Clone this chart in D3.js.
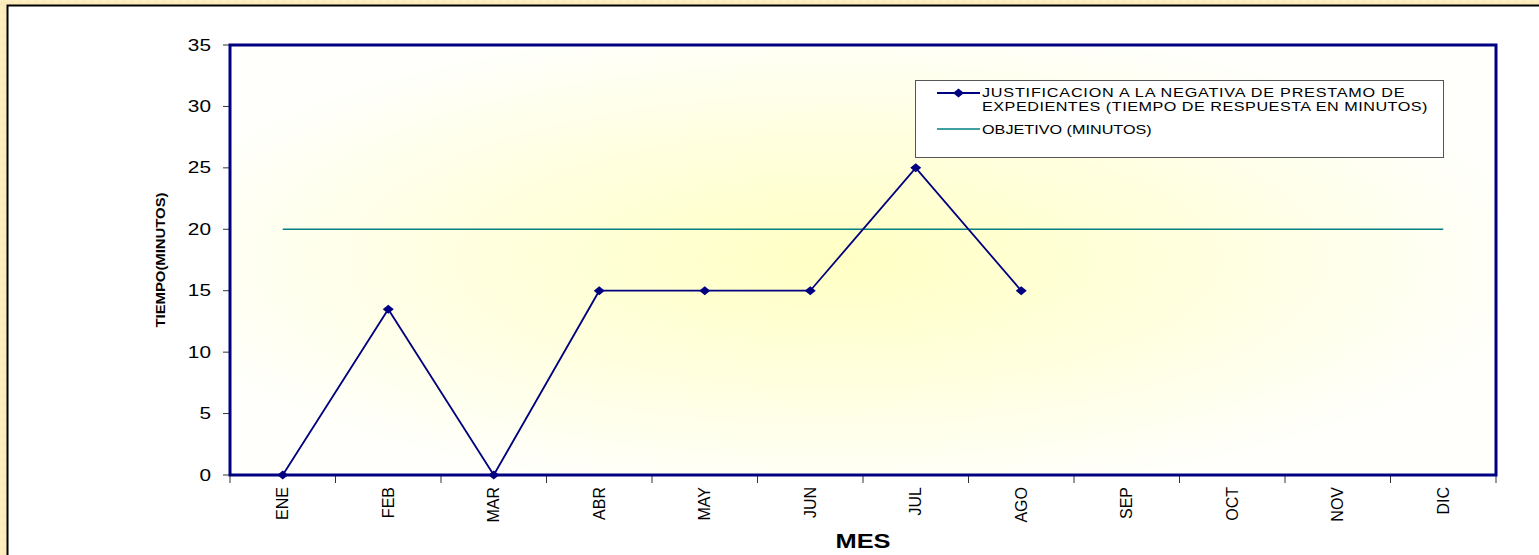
<!DOCTYPE html>
<html>
<head>
<meta charset="utf-8">
<script src="https://cdn.jsdelivr.net/npm/d3@7"></script>
<style>
  html, body { margin: 0; padding: 0; background: #fdf0c4; }
  svg { display: block; }
  text { font-family: "Liberation Sans", Arial, sans-serif; }
</style>
</head>
<body>
<svg id="chart" width="1539" height="555"></svg>
<script>
// Months of the year (x categories)
const months = ["ENE", "FEB", "MAR", "ABR", "MAY", "JUN", "JUL", "AGO", "SEP", "OCT", "NOV", "DIC"];
// Response time in minutes (reported months only)
const responseTimes = [0, 13.5, 0, 15, 15, 15, 25, 15];
// Target in minutes for every month
const objective = [20, 20, 20, 20, 20, 20, 20, 20, 20, 20, 20, 20];
// Y axis ticks
const yTicks = [0, 5, 10, 15, 20, 25, 30, 35];

const seriesName1 = ["JUSTIFICACION A LA NEGATIVA DE PRESTAMO DE", "EXPEDIENTES (TIEMPO DE RESPUESTA EN MINUTOS)"];
const seriesName2 = "OBJETIVO (MINUTOS)";

const svg = d3.select("#chart");
const W = 1539, H = 555;
const plot = { left: 230, right: 1496, top: 45, bottom: 475 };

const defs = svg.append("defs");

// Textured cream frame
const pat = defs.append("pattern").attr("id", "frameTex")
  .attr("width", 8).attr("height", 8).attr("patternUnits", "userSpaceOnUse");
pat.append("rect").attr("width", 8).attr("height", 8).attr("fill", "#fdefc1");
pat.append("path").attr("d", "M0,4 L4,0 L8,4 L4,8 Z").attr("fill", "#fbe8b2").attr("opacity", 0.6);

// Soft yellow glow in the plot area
const grad = defs.append("radialGradient").attr("id", "plotGlow")
  .attr("cx", "0.48").attr("cy", "0.5").attr("r", "0.55")
  .attr("fx", "0.48").attr("fy", "0.5");
grad.append("stop").attr("offset", "0").attr("stop-color", "#ffffc4");
grad.append("stop").attr("offset", "0.45").attr("stop-color", "#ffffdb");
grad.append("stop").attr("offset", "1").attr("stop-color", "#fffffb");

svg.append("rect").attr("width", W).attr("height", H).attr("fill", "url(#frameTex)");

// White chart panel
svg.append("rect").attr("x", 7.5).attr("y", 5.5).attr("width", W).attr("height", H)
  .attr("fill", "#ffffff").attr("stroke", "#000").attr("stroke-width", 2);

const x = d3.scaleBand().domain(months).range([plot.left, plot.right]);
const y = d3.scaleLinear().domain([0, 35]).range([plot.bottom, plot.top]);
const cx = m => x(m) + x.bandwidth() / 2;

// Plot area background
svg.append("rect")
  .attr("x", plot.left).attr("y", plot.top)
  .attr("width", plot.right - plot.left).attr("height", plot.bottom - plot.top)
  .attr("fill", "url(#plotGlow)");

// Y axis ticks and labels
const yAxis = svg.append("g");
yAxis.selectAll("line").data(yTicks).join("line")
  .attr("x1", plot.left - 7).attr("x2", plot.left)
  .attr("y1", d => y(d)).attr("y2", d => y(d))
  .attr("stroke", "#333").attr("stroke-width", 1);
yAxis.selectAll("text").data(yTicks).join("text")
  .attr("transform", d => `translate(211,${y(d) + 5.5}) scale(1.3,1)`)
  .attr("text-anchor", "end")
  .attr("font-size", 16)
  .attr("fill", "#000")
  .text(d => d);

// X axis ticks at category boundaries
const xBounds = months.map(m => x(m)).concat([plot.right]);
svg.append("g").selectAll("line").data(xBounds).join("line")
  .attr("x1", d => d).attr("x2", d => d)
  .attr("y1", plot.bottom).attr("y2", plot.bottom + 8)
  .attr("stroke", "#333").attr("stroke-width", 1);

// X labels, rotated
svg.append("g").selectAll("text").data(months).join("text")
  .attr("transform", m => `translate(${cx(m) + 5.5},487) rotate(-90)`)
  .attr("text-anchor", "end")
  .attr("font-size", 16)
  .attr("fill", "#000")
  .text(m => m);

// Objective line
const line = d3.line().x((d, i) => cx(months[i])).y(d => y(d));
svg.append("path").datum(objective)
  .attr("d", line)
  .attr("fill", "none").attr("stroke", "#008080").attr("stroke-width", 1.5);

// Response time series
svg.append("path").datum(responseTimes)
  .attr("d", line)
  .attr("fill", "none").attr("stroke", "#000080").attr("stroke-width", 1.8);

const diamond = (px, py, w, h) => `M${px},${py - h} L${px + w},${py} L${px},${py + h} L${px - w},${py} Z`;
svg.append("g").selectAll("path").data(responseTimes).join("path")
  .attr("d", (d, i) => diamond(cx(months[i]), y(d), 5.5, 4.5))
  .attr("fill", "#000080");

// Plot frame
svg.append("rect")
  .attr("x", plot.left).attr("y", plot.top)
  .attr("width", plot.right - plot.left).attr("height", plot.bottom - plot.top)
  .attr("fill", "none").attr("stroke", "#000080").attr("stroke-width", 3);

// Axis titles
svg.append("text")
  .attr("transform", `translate(165,${(plot.top + plot.bottom) / 2}) rotate(-90) scale(1,0.85)`)
  .attr("text-anchor", "middle")
  .attr("font-size", 15).attr("font-weight", "bold")
  .attr("textLength", 135).attr("lengthAdjust", "spacingAndGlyphs")
  .text("TIEMPO(MINUTOS)");

svg.append("text")
  .attr("transform", `translate(${(plot.left + plot.right) / 2},548) scale(1.27,1)`)
  .attr("text-anchor", "middle")
  .attr("font-size", 20).attr("font-weight", "bold")
  .text("MES");

// Legend
const lg = svg.append("g");
lg.append("rect").attr("x", 915.5).attr("y", 80.5).attr("width", 528).attr("height", 77)
  .attr("fill", "#fff").attr("stroke", "#555").attr("stroke-width", 1);
lg.append("line").attr("x1", 937).attr("x2", 980).attr("y1", 93).attr("y2", 93)
  .attr("stroke", "#000080").attr("stroke-width", 1.8);
lg.append("path").attr("d", diamond(958.5, 93, 5.5, 4.5)).attr("fill", "#000080");
lg.append("line").attr("x1", 937).attr("x2", 980).attr("y1", 129).attr("y2", 129)
  .attr("stroke", "#008080").attr("stroke-width", 1.5);
const legendWidths = [313, 330];
seriesName1.forEach((t, i) => {
  lg.append("text")
    .attr("transform", `translate(982,${97 + i * 13.5}) scale(1.35,1)`)
    .attr("font-size", 12).attr("fill", "#000")
    .attr("textLength", legendWidths[i]).attr("lengthAdjust", "spacing")
    .text(t);
});
lg.append("text")
  .attr("transform", `translate(982,133.5) scale(1.35,1)`)
  .attr("font-size", 12).attr("fill", "#000")
  .text(seriesName2);
</script>
</body>
</html>
